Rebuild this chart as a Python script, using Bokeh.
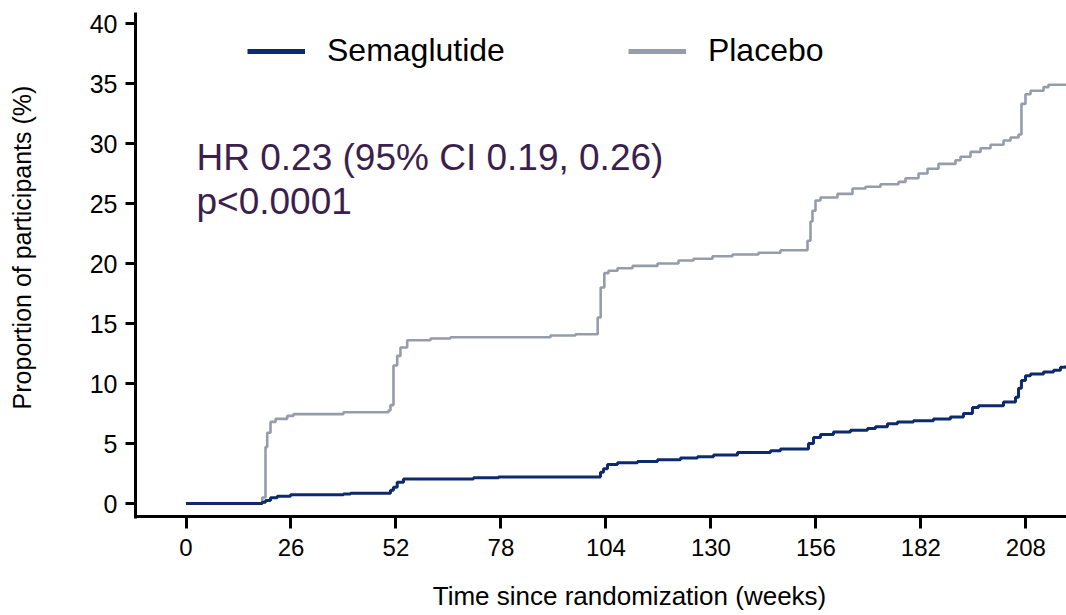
import math
from bokeh.plotting import figure
from bokeh.models import Range1d, FixedTicker, Label, Legend, LegendItem
from bokeh.embed import file_html
from bokeh.resources import INLINE

# ---------------- data ----------------
series_names = ["Semaglutide", "Placebo"]

placebo_weeks = [0, 18.87, 19.69, 20.11, 20.93, 22.17, 25.06, 26.62, 39.0, 50.15,
                 50.64, 51.38, 52.3, 53.11, 54.78, 60.55, 65.5, 90.27, 96.46, 101.96,
                 102.7, 103.6, 104.64, 106.87, 110.58, 116.77, 121.97, 125.69, 130.39, 135.35,
                 141.78, 147.23, 153.92, 154.66, 155.15, 155.9, 157.13, 161.34, 165.06, 168.28,
                 172.0, 176.45, 178.19, 181.41, 183.64, 186.36, 190.57, 191.81, 194.29, 196.77,
                 199.24, 202.46, 204.2, 206.18, 206.9, 207.9, 209.15, 212.37, 213.6, 218.06]
placebo_pct = [0, 0.5, 4.7, 5.9, 6.8, 7.05, 7.3, 7.45, 7.6, 7.75,
               8.2, 11.5, 12.3, 13.0, 13.6, 13.75, 13.85, 14.0, 14.1, 15.5,
               18.0, 19.2, 19.4, 19.6, 19.8, 20.0, 20.25, 20.4, 20.6, 20.75,
               20.9, 21.1, 21.9, 23.5, 24.4, 25.25, 25.5, 25.8, 26.25, 26.4,
               26.6, 26.8, 27.1, 27.5, 27.9, 28.3, 28.6, 28.9, 29.3, 29.6,
               29.9, 30.25, 30.5, 30.75, 33.3, 34.1, 34.4, 34.7, 34.9, 34.9]

sema_weeks = [0, 18.87, 19.69, 20.93, 22.59, 25.88, 39.0, 40.73, 50.64, 51.38,
              52.3, 53.86, 71.2, 77.39, 102.65, 103.39, 104.38, 106.87, 111.82, 116.77,
              122.46, 126.67, 130.64, 136.58, 144.75, 147.23, 154.17, 155.4, 157.13, 160.35,
              164.56, 168.77, 170.75, 173.72, 176.2, 180.16, 185.11, 189.32, 192.54, 194.77,
              196.26, 202.46, 205.43, 206.18, 206.9, 207.9, 209.15, 212.37, 214.85, 216.58,
              217.82]
sema_pct = [0, 0.1, 0.25, 0.47, 0.6, 0.72, 0.8, 0.86, 1.1, 1.36,
            1.78, 2.05, 2.14, 2.2, 2.6, 2.9, 3.25, 3.4, 3.5, 3.65,
            3.8, 3.9, 4.05, 4.25, 4.4, 4.55, 5.0, 5.5, 5.75, 5.95,
            6.1, 6.25, 6.4, 6.65, 6.8, 6.9, 7.05, 7.2, 7.5, 8.0,
            8.15, 8.45, 8.85, 9.6, 10.25, 10.65, 10.8, 10.95, 11.1, 11.35,
            11.5]

x_ticks = [0, 26, 52, 78, 104, 130, 156, 182, 208]
y_ticks = [0, 5, 10, 15, 20, 25, 30, 35, 40]

x_title = "Time since randomization (weeks)"
y_title = "Proportion of participants (%)"
hr_text = "HR 0.23 (95% CI 0.19, 0.26)"
p_text = "p<0.0001"

# ---------------- styling ----------------
NAVY = "#0C2A6C"
GRAY = "#959CAB"
PURPLE = "#3B1F4E"
FONT = "Liberation Sans"

# axis extents (where the axis lines sit / end)
X_AXIS_START, X_AXIS_END = -12.5, 218.06
Y_AXIS_START, Y_AXIS_END = -1.083, 40.917

# the frame covers the whole canvas; the axes are pinned inside it
p = figure(width=1066, height=615, output_backend="svg", toolbar_location=None,
           x_range=Range1d(-45.94, 218.06), y_range=Range1d(-9.333, 41.917),
           min_border_left=0, min_border_right=0, min_border_top=0, min_border_bottom=0)
p.outline_line_color = None
p.xgrid.visible = False
p.ygrid.visible = False
p.background_fill_color = "white"
p.border_fill_color = "white"

for ax in (p.xaxis[0], p.yaxis[0]):
    ax.axis_line_width = 3
    ax.axis_line_color = "black"
    ax.major_tick_line_width = 3
    ax.major_tick_line_color = "black"
    ax.major_tick_in = 0
    ax.minor_tick_line_color = None
    ax.major_label_text_font = FONT
    ax.major_label_text_color = "black"

p.xaxis.fixed_location = Y_AXIS_START
p.xaxis.bounds = (X_AXIS_START - 0.37, X_AXIS_END)
p.xaxis.ticker = FixedTicker(ticks=x_ticks)
p.xaxis.major_tick_out = 12
p.xaxis.major_label_standoff = 10
p.xaxis.major_label_text_font_size = "24px"

p.yaxis.fixed_location = X_AXIS_START
p.yaxis.bounds = (Y_AXIS_START - 0.125, Y_AXIS_END)
p.yaxis.ticker = FixedTicker(ticks=y_ticks)
p.yaxis.major_tick_out = 10
p.yaxis.major_label_standoff = 8
p.yaxis.major_label_text_font_size = "25px"

# curves
r_plac = p.step(placebo_weeks, placebo_pct, mode="after", line_color=GRAY, line_width=2.6)
r_sema = p.step(sema_weeks, sema_pct, mode="after", line_color=NAVY, line_width=3)

# legend swatches (thicker than the curves, drawn nowhere in the data area)
nan = float("nan")
s_sema = p.line([nan], [nan], line_color=NAVY, line_width=5)
s_plac = p.line([nan], [nan], line_color=GRAY, line_width=5)
legend = Legend(items=[LegendItem(label=series_names[0], renderers=[s_sema]),
                       LegendItem(label=series_names[1], renderers=[s_plac])],
                orientation="horizontal", location=(247, 546), glyph_width=58,
                glyph_height=32, label_height=32, label_standoff=22, spacing=123,
                padding=0, margin=0, border_line_color=None, background_fill_alpha=0,
                label_text_font_size="32px", label_text_font=FONT, label_text_color="black")
p.add_layout(legend)

# annotation text
p.add_layout(Label(x=196, y=458, x_units="screen", y_units="screen", text=hr_text,
                   text_font=FONT, text_font_size="37px", text_color=PURPLE,
                   text_align="left", text_baseline="middle"))
p.add_layout(Label(x=196, y=414, x_units="screen", y_units="screen", text=p_text,
                   text_font=FONT, text_font_size="37px", text_color=PURPLE,
                   text_align="left", text_baseline="middle"))

# axis titles
p.add_layout(Label(x=629, y=20, x_units="screen", y_units="screen", text=x_title,
                   text_font=FONT, text_font_size="26px", text_color="black",
                   text_align="center", text_baseline="middle"))
p.add_layout(Label(x=21, y=368, x_units="screen", y_units="screen", text=y_title,
                   angle=math.pi / 2, text_font=FONT, text_font_size="25px",
                   text_color="black", text_align="center", text_baseline="middle"))

open("out.html", "w").write(file_html(p, INLINE))
